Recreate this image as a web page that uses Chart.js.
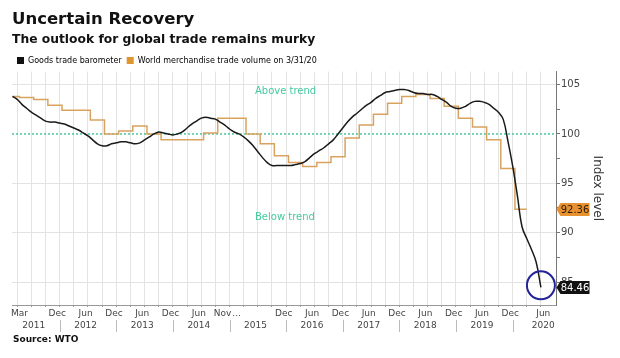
<!DOCTYPE html>
<html>
<head>
<meta charset="utf-8">
<script src="https://cdn.jsdelivr.net/npm/chart.js@4.4.1/dist/chart.umd.min.js"></script>
<style>
  html, body { margin: 0; padding: 0; background: #fff; }
  #wrap { width: 620px; height: 358px; }
</style>
</head>
<body>
<div id="wrap"><canvas id="chart" width="620" height="358"></canvas></div>
<script>
'use strict';

// ── Data (month index 0 = Mar 2011) ─────────────────────────────────────────

const barometerValues = [
  103.8, 103.5, 103.0, 102.6, 102.2, 101.9, 101.6, 101.3, 101.2, 101.2,
  101.1, 101.0, 100.8, 100.6, 100.4, 100.1, 99.8, 99.4, 99.0, 98.8,
  98.8, 99.0, 99.1, 99.2, 99.2, 99.1, 99.0, 99.1, 99.4, 99.7,
  100.0, 100.2, 100.1, 100.0, 99.9, 100.0, 100.2, 100.6, 101.0, 101.3,
  101.6, 101.7, 101.6, 101.5, 101.2, 100.9, 100.5, 100.2, 100.0, 99.7,
  99.3, 98.8, 98.2, 97.6, 97.1, 96.8, 96.8, 96.8, 96.8, 96.8,
  96.9, 97.0, 97.2, 97.6, 98.0, 98.3, 98.6, 99.0, 99.4, 100.0,
  100.6, 101.2, 101.7, 102.1, 102.5, 102.9, 103.2, 103.6, 103.9, 104.2,
  104.3, 104.4, 104.5, 104.5, 104.4, 104.2, 104.1, 104.1, 104.0, 104.0,
  103.8, 103.5, 103.2, 102.8, 102.6, 102.6, 102.8, 103.1, 103.3, 103.3,
  103.2, 103.0, 102.6, 102.2, 101.5, 99.3, 96.8, 93.8, 90.6, 89.4,
  88.3, 87.0, 84.46
];

// quarterly trade volume, drawn as steps starting at each month position
const volumeMonths = [
  0, 1.5, 4.5, 7.5, 10.5, 13.5, 16.5, 19.5, 22.5, 25.5,
  28.5, 31.5, 34.5, 37.5, 40.5, 43.5, 46.5, 49.5, 52.5, 55.5,
  58.5, 61.5, 64.5, 67.5, 70.5, 73.5, 76.5, 79.5, 82.5, 85.5,
  88.5, 91.5, 94.5, 97.5, 100.5, 103.5, 106.5, 109
];
const volumeValues = [
  103.8, 103.7, 103.5, 102.9, 102.4, 102.4, 101.4, 100.0, 100.3, 100.8,
  100.0, 99.4, 99.4, 99.4, 100.1, 101.6, 101.6, 100.0, 99.0, 97.8,
  97.1, 96.7, 97.1, 97.7, 99.6, 100.9, 102.0, 103.1, 103.8, 104.0,
  103.6, 102.8, 101.6, 100.7, 99.4, 96.5, 92.36, 92.36
];

const trendLevel = 100;

const monthTickIndex = [1, 9, 15, 21, 27, 33, 39, 44, 47, 57, 63, 69, 75, 81, 87, 93, 99, 105, 112];
const monthTickText  = ['Mar', 'Dec', 'Jun', 'Dec', 'Jun', 'Dec', 'Jun', 'Nov', '...', 'Dec',
                        'Jun', 'Dec', 'Jun', 'Dec', 'Jun', 'Dec', 'Jun', 'Dec', 'Jun'];
const yearText       = ['2011', '2012', '2013', '2014', '2015', '2016', '2017', '2018', '2019', '2020'];
const yearLabelIndex = [4.5, 15.5, 27.5, 39.5, 51.5, 63.5, 75.5, 87.5, 99.5, 112.5];
const yearBreakIndex = [10, 22, 34, 46, 58, 70, 82, 94, 106];
const yTickValues    = [85, 87.5, 90, 92.5, 95, 97.5, 100, 102.5, 105];

// ── Style ───────────────────────────────────────────────────────────────────

const FONT   = '"DejaVu Sans", sans-serif';
const TEAL   = '#46c9a0';
const ORANGE = '#d9a35f';
const GRID   = '#e3e3e3';
const CLEAR  = 'rgba(0,0,0,0)';

Chart.defaults.font.family = FONT;
Chart.defaults.color = '#444';

// quarterly vertical grid (Apr/Jul/Oct/Jan)
const gridIndex = [];
for (let m = 1; m <= 113; m += 3) gridIndex.push(m);

const monthLabelAt = new Map(monthTickIndex.map((m, i) => [m + 0.5, monthTickText[i]]));
const gridSet = new Set(gridIndex);
const xTickValues = [...new Set([...gridIndex, ...monthLabelAt.keys()])].sort((a, b) => a - b);

// ── Extra drawing ───────────────────────────────────────────────────────────

function valueTag(chart, value, text, bg, fg) {
  const { ctx, scales: { y } } = chart;
  const py = Math.round(y.getPixelForValue(value)) + 0.5;
  const tip = y.left + 0.5;
  const left = tip + 4, right = tip + 33, h = 6.5;
  ctx.save();
  ctx.fillStyle = bg;
  ctx.beginPath();
  ctx.moveTo(tip, py);
  ctx.lineTo(left, py - h);
  ctx.lineTo(right, py - h);
  ctx.lineTo(right, py + h);
  ctx.lineTo(left, py + h);
  ctx.closePath();
  ctx.fill();
  ctx.fillStyle = fg;
  ctx.font = '10px ' + FONT;
  ctx.textAlign = 'center';
  ctx.textBaseline = 'middle';
  ctx.fillText(text, (left + right) / 2, py + 0.5);
  ctx.restore();
}

const decorations = {
  id: 'decorations',
  beforeDatasetsDraw(chart) {
    const { ctx, scales: { x, y } } = chart;
    ctx.save();
    ctx.font = '10px ' + FONT;
    ctx.fillStyle = TEAL;
    ctx.textAlign = 'left';
    ctx.textBaseline = 'middle';
    ctx.fillText('Above trend', x.getPixelForValue(51.4), y.getPixelForValue(104.35));
    ctx.fillText('Below trend', x.getPixelForValue(51.4), y.getPixelForValue(91.5));
    ctx.restore();
  },
  afterDraw(chart) {
    const { ctx, scales: { x, y } } = chart;
    const rowY = x.bottom + 3;

    ctx.save();
    // year row
    ctx.font = '9px ' + FONT;
    ctx.fillStyle = '#444';
    ctx.textAlign = 'center';
    ctx.textBaseline = 'middle';
    yearText.forEach((t, i) => ctx.fillText(t, x.getPixelForValue(yearLabelIndex[i]), rowY));
    ctx.strokeStyle = '#bbb';
    ctx.lineWidth = 1;
    yearBreakIndex.forEach(m => {
      const px = Math.round(x.getPixelForValue(m)) + 0.5;
      ctx.beginPath();
      ctx.moveTo(px, rowY - 6);
      ctx.lineTo(px, rowY + 6);
      ctx.stroke();
    });

    // source
    ctx.font = 'bold 9px ' + FONT;
    ctx.fillStyle = '#111';
    ctx.textAlign = 'left';
    ctx.fillText('Source: WTO', 13, rowY + 14);

    // circle round the latest barometer reading
    const last = barometerValues.length - 1;
    ctx.strokeStyle = '#23239a';
    ctx.lineWidth = 2;
    ctx.beginPath();
    ctx.arc(x.getPixelForValue(last), y.getPixelForValue(barometerValues[last]) - 2, 14, 0, Math.PI * 2);
    ctx.stroke();
    ctx.restore();

    valueTag(chart, volumeValues[volumeValues.length - 1], volumeValues[volumeValues.length - 1].toFixed(2), '#e8922f', '#2a1a05');
    valueTag(chart, barometerValues[last], barometerValues[last].toFixed(2), '#111', '#fff');
  }
};

// ── Chart ───────────────────────────────────────────────────────────────────

new Chart(document.getElementById('chart').getContext('2d'), {
  type: 'line',
  data: {
    datasets: [
      {
        label: 'Goods trade barometer',
        data: barometerValues.map((v, i) => ({ x: i, y: v })),
        borderColor: '#1a1a1a',
        backgroundColor: '#111',
        borderWidth: 1.5,
        pointRadius: 0,
        tension: 0.4,
        order: 0,
      },
      {
        label: 'World merchandise trade volume on 3/31/20',
        data: volumeValues.map((v, i) => ({ x: volumeMonths[i], y: v })),
        borderColor: ORANGE,
        backgroundColor: '#e0962f',
        borderWidth: 1.5,
        pointRadius: 0,
        stepped: true,
        order: 1,
      },
      {
        label: 'trend',
        data: [{ x: -0.1, y: trendLevel }, { x: 115.2, y: trendLevel }],
        borderColor: TEAL,
        borderWidth: 1.5,
        borderDash: [2, 2],
        pointRadius: 0,
        order: 2,
      },
    ],
  },
  options: {
    responsive: false,
    animation: false,
    events: [],
    layout: { padding: { left: 12, right: 15, top: 0, bottom: 35 } },
    plugins: {
      title: {
        display: true,
        text: 'Uncertain Recovery',
        align: 'start',
        color: '#111',
        font: { size: 16.5, weight: 'bold' },
        padding: { top: 10, bottom: 0 },
      },
      subtitle: {
        display: true,
        text: 'The outlook for global trade remains murky',
        align: 'start',
        color: '#111',
        font: { size: 12.3, weight: 'bold' },
        padding: { top: 3, bottom: 4 },
      },
      legend: {
        align: 'start',
        maxHeight: 20,
        labels: {
          boxWidth: 7,
          boxHeight: 7,
          padding: 5,
          color: '#333',
          font: { size: 8 },
          generateLabels: chart => chart.data.datasets.slice(0, 2)
            .map((d, i) => ({ text: d.label, fillStyle: d.backgroundColor, strokeStyle: d.backgroundColor, lineWidth: 0, datasetIndex: i }))
        },
      },
      tooltip: { enabled: false },
    },
    scales: {
      x: {
        type: 'linear',
        min: -0.1,
        max: 115.2,
        afterBuildTicks: axis => { axis.ticks = xTickValues.map(v => ({ value: v })); },
        afterFit: s => { s.height = 18; },
        ticks: {
          autoSkip: false,
          maxRotation: 0,
          padding: 1,
          color: '#444',
          font: { size: 9 },
          callback: v => monthLabelAt.get(v) || '',
        },
        grid: {
          color: c => (c.tick && gridSet.has(c.tick.value)) ? GRID : CLEAR,
          tickColor: c => (c.tick && gridSet.has(c.tick.value)) ? '#999' : CLEAR,
          tickLength: 2,
        },
        border: { color: '#999' },
      },
      y: {
        position: 'right',
        min: 82.67,
        max: 106.32,
        afterBuildTicks: axis => { axis.ticks = yTickValues.map(v => ({ value: v })); },
        afterFit: s => { s.width = 49; },
        ticks: {
          padding: 1,
          color: '#444',
          font: { size: 10 },
          callback: v => (v % 5 === 0 ? String(v) : ''),
        },
        grid: {
          color: c => (c.tick && c.tick.value % 5 === 0 && c.tick.value !== trendLevel) ? GRID : CLEAR,
          tickColor: '#777',
          tickLength: 4,
        },
        border: { color: '#777' },
        title: {
          display: true,
          text: 'Index level',
          color: '#333',
          font: { size: 12 },
          padding: { top: 1, bottom: 0 },
        },
      },
    },
  },
  plugins: [decorations],
});
</script>
</body>
</html>
